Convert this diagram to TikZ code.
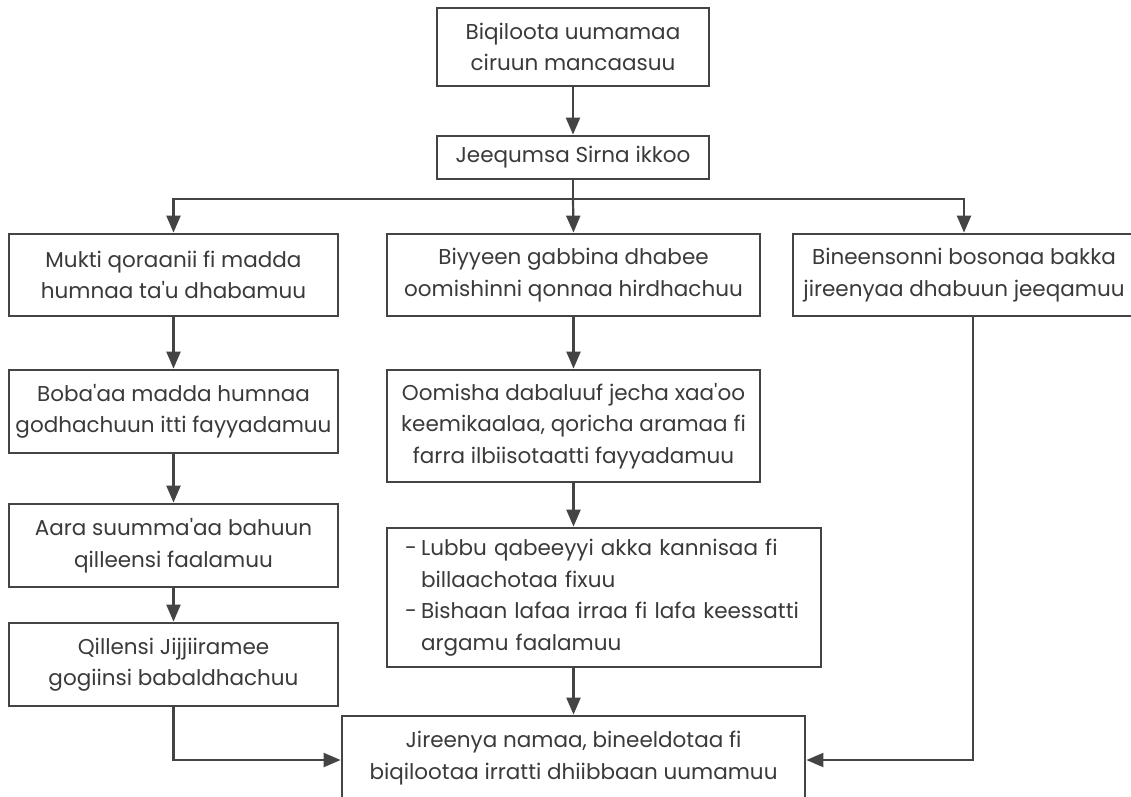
\documentclass[tikz,border=0pt]{standalone}
\usepackage{fontspec}
\setmainfont{Poppins}[Ligatures=TeXOff]
\usetikzlibrary{arrows.meta}
\definecolor{ln}{HTML}{444444}
\definecolor{tx}{HTML}{3A3A3A}
\newcommand\dashitem{\makebox[16pt][l]{-}}
\newcommand\contline{\hspace*{16pt}}
\begin{document}
\begin{tikzpicture}[x=1pt,y=-1pt,
  box/.style={draw=ln,line width=2.8pt,fill=white,inner sep=2pt,align=center,text=tx,
    font=\fontsize{21.5}{31.5}\selectfont},
  arr/.style={draw=ln,line width=2.2pt,-{Triangle[length=17pt,width=14pt]}},
  ln/.style={draw=ln,line width=2.2pt}]
\useasboundingbox[fill=white] (0,0) rectangle (1131,796);
\node[box,minimum width=272pt,minimum height=78pt] (top) at (573,47) {Biqiloota uumamaa\\ciruun mancaasuu};
\node[box,minimum width=272pt,minimum height=43pt] (jeeq) at (573,157.5) {Jeequmsa Sirna ikkoo};
\node[box,minimum width=329pt,minimum height=82pt] (L1) at (173.5,275) {Mukti qoraanii fi madda\\humnaa ta'u dhabamuu};
\node[box,minimum width=373pt,minimum height=82pt] (M1) at (573.5,275) {Biyyeen gabbina dhabee\\oomishinni qonnaa hirdhachuu};
\node[box,minimum width=342pt,minimum height=82pt] (R1) at (964,275) {Bineensonni bosonaa bakka\\jireenyaa dhabuun jeeqamuu};
\node[box,minimum width=329pt,minimum height=83pt] (L2) at (173.5,411.5) {Boba'aa madda humnaa\\godhachuun itti fayyadamuu};
\node[box,minimum width=373pt,minimum height=112pt] (M2) at (573.5,426) {Oomisha dabaluuf jecha xaa'oo\\keemikaalaa, qoricha aramaa fi\\farra ilbiisotaatti fayyadamuu};
\node[box,minimum width=329pt,minimum height=83pt] (L3) at (173.5,545.5) {Aara suumma'aa bahuun\\qilleensi faalamuu};
\node[box,minimum width=329pt,minimum height=83pt] (L4) at (173.5,664.5) {Qillensi Jijjiiramee\\gogiinsi babaldhachuu};
\node[box,minimum width=434pt,minimum height=139pt,align=left,text width=398pt] (M3) at (604,597.5) {\dashitem Lubbu qabeeyyi akka kannisaa fi\\\contline billaachotaa fixuu\\\dashitem Bishaan lafaa irraa fi lafa keessatti\\\contline argamu faalamuu};
\node[box,minimum width=463pt,minimum height=84pt] (B) at (573.5,758) {Jireenya namaa, bineeldotaa fi\\biqilootaa irratti dhiibbaan uumamuu};
\coordinate (j) at (573,199);
\draw[arr] (top.south) -- (jeeq.north);
\draw[ln] (jeeq.south) -- (j);
\draw[arr] (j) -| (L1.north);
\draw[arr] (j) -- (M1.north);
\draw[arr] (j) -| (R1.north);
\draw[arr] (L1.south) -- (L2.north);
\draw[arr] (L2.south) -- (L3.north);
\draw[arr] (L3.south) -- (L4.north);
\draw[arr] (M1.south) -- (M2.north);
\draw[arr] (M2.south) -- (M2.south |- M3.north);
\draw[arr] (B.north |- M3.south) -- (B.north);
\draw[arr] (L4.south) |- ([yshift=-2pt]B.west);
\draw[arr] ([xshift=9pt]R1.south) |- ([yshift=-2pt]B.east);
\end{tikzpicture}
\end{document}
